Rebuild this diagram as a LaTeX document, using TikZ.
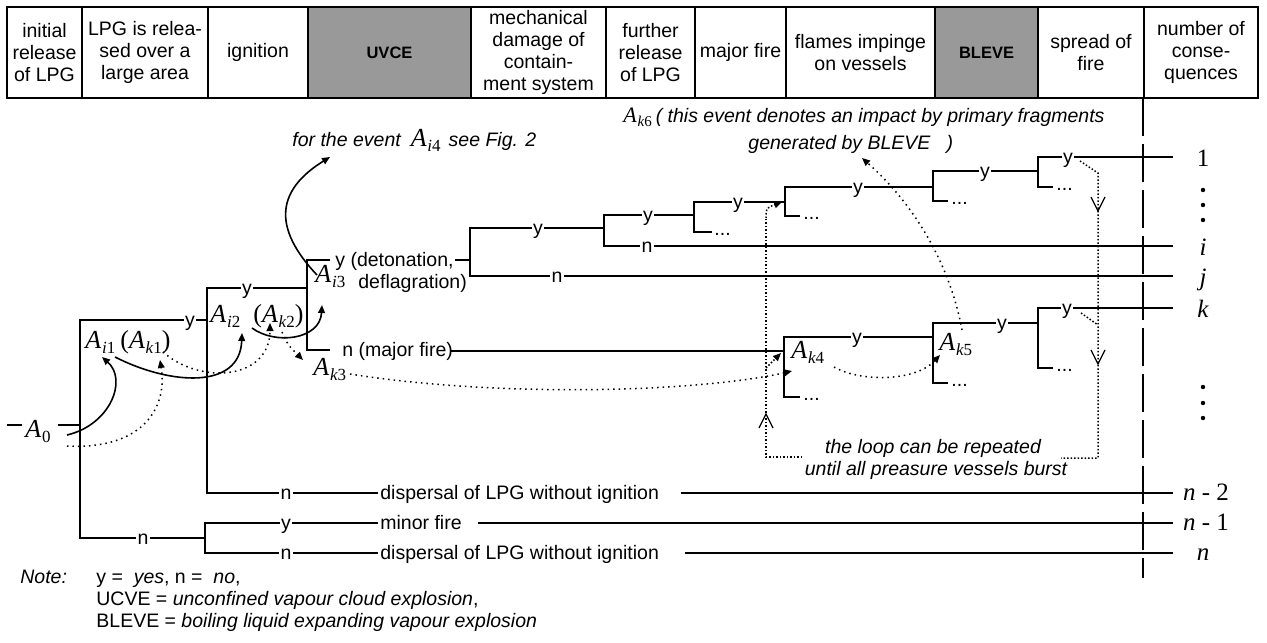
\documentclass[tikz,border=0pt]{standalone}
\usepackage{fontspec}
\setmainfont{Liberation Sans}
\newfontfamily\tms{Liberation Serif}
\usetikzlibrary{arrows.meta, positioning}

% sucesos A con subindices
\newcommand{\suc}[2]{{\tms\fontsize{13}{13}\selectfont\itshape A\kern0.4pt\raisebox{-2.8pt}{\fontsize{8.5}{8.5}\selectfont #1\upshape #2}}}
\newcommand{\sucp}[2]{{\tms\fontsize{13}{13}\selectfont(}\suc{#1}{#2}{\tms\fontsize{13}{13}\selectfont)}}
\newcommand{\sucs}[2]{{\tms\fontsize{11}{11}\selectfont\itshape A\kern0.4pt\raisebox{-2.4pt}{\fontsize{7.5}{7.5}\selectfont #1\upshape #2}}}

\begin{document}
\begin{tikzpicture}[x=0.5pt, y=-0.5pt,
  rama/.style={line width=1pt},
  marco/.style={line width=0.6pt},
  sombra/.style={fill=black!40},
  cab/.style={align=center, inner sep=0pt, font=\fontsize{9.75}{11}\selectfont},
  cabneg/.style={inner sep=0pt, font=\fontsize{8.25}{10}\selectfont\bfseries},
  lbl/.style={fill=white, inner sep=0.8pt, anchor=mid, yshift=-0.5pt, font=\fontsize{9.75}{11}\selectfont},
  txt/.style={inner sep=0pt, anchor=base west, font=\fontsize{9.75}{11}\selectfont},
  cursiva/.style={txt, font=\fontsize{9.75}{11}\selectfont\itshape},
  fila/.style={inner sep=0pt, anchor=base, font=\tms\fontsize{12.5}{12.5}\selectfont},
  suceso/.style={inner sep=0pt, anchor=base west},
  flecha/.style={line width=0.8pt, -{Triangle[length=4pt, width=3.4pt]}},
  punteada/.style={line width=0.75pt, dotted, -{Triangle[length=4pt, width=3.4pt]}},
  lazo/.style={line width=0.75pt, densely dotted},
  punta/.style={line width=0.6pt}]
\useasboundingbox (0,0) rectangle (1267,642);

% cabecera
\fill[sombra] (308,7) rectangle (471,98);
\fill[sombra] (935,7) rectangle (1038,98);
\draw[marco] (7,7) rectangle (1258,98);
\draw[marco] (82,7) -- (82,98);
\draw[marco] (208,7) -- (208,98);
\draw[marco] (308,7) -- (308,98);
\draw[marco] (471,7) -- (471,98);
\draw[marco] (606,7) -- (606,98);
\draw[marco] (695,7) -- (695,98);
\draw[marco] (786,7) -- (786,98);
\draw[marco] (935,7) -- (935,98);
\draw[marco] (1038,7) -- (1038,98);
\draw[marco] (1144,7) -- (1144,98);
\node[cab] (c1) at (44.5,52.5) {initial\\release\\of LPG};
\node[cab] (c2) at (145,52.5) {LPG is relea-\\sed over a\\large area};
\node[cab] (c3) at (258,52.5) {ignition};
\node[cabneg] (c4) at (389.5,52.5) {UVCE};
\node[cab] (c5) at (538.5,52.5) {mechanical\\damage of\\contain-\\ment system};
\node[cab] (c6) at (650.5,52.5) {further\\release\\of LPG};
\node[cab] (c7) at (740.5,52.5) {major fire};
\node[cab] (c8) at (860.5,52.5) {flames impinge\\on vessels};
\node[cabneg] (c9) at (986.5,52.5) {BLEVE};
\node[cab] (c10) at (1091,52.5) {spread of\\fire};
\node[cab] (c11) at (1201,52.5) {number of\\conse-\\quences};

% suceso inicial
\node[suceso] (A0) at (25,437) {\suc{}{0}};
\draw[rama] (7,425) -- (22,425);
\draw[rama] (58,425) -- (80,425);

% ramas hasta la ignicion
\draw[rama] (207,320) -- (80,320) -- (80,538) -- (205,538);
\node[lbl] (y1) at (190,320) {y};
\node[lbl] (n1) at (143,538) {n};
\draw[rama] (307,288) -- (207,288) -- (207,493) -- (378,493);
\node[lbl] (y2) at (247,288) {y};
\node[lbl] (n2) at (286,493) {n};
\node[txt] (disp1) at (380,499) {dispersal of LPG without ignition};
\draw[rama] (681,493) -- (1173,493);
\draw[rama] (378,523) -- (205,523) -- (205,553) -- (378,553);
\node[lbl] (y3) at (286,523) {y};
\node[lbl] (n3) at (286,553) {n};
\node[txt] (minor) at (380,529) {minor fire};
\draw[rama] (478,523) -- (1173,523);
\node[txt] (disp2) at (380,559) {dispersal of LPG without ignition};
\draw[rama] (685,553) -- (1173,553);

% UVCE o incendio
\draw[rama] (330,260) -- (307,260) -- (307,350) -- (330,350);
\node[txt] (det) at (335,266) {y (detonation,};
\node[txt] (defl) at (358,288) {deflagration)};
\node[txt] (mfire) at (342,356) {n (major fire)};
\draw[rama] (455,260) -- (470,260);
\draw[rama] (450,351) -- (784,351);

% cascada superior
\draw[rama] (604,228) -- (470,228) -- (470,276) -- (1173,276);
\node[lbl] (ya) at (538,228) {y};
\node[lbl] (na) at (557,276) {n};
\draw[rama] (694,215) -- (604,215) -- (604,246) -- (1173,246);
\node[lbl] (yb) at (648,215) {y};
\node[lbl] (nb) at (647,246) {n};
\draw[rama] (785,202) -- (694,202) -- (694,232) -- (712,232);
\node[lbl] (yc) at (738,202) {y};
\node[txt] (dc) at (714,235) {...};
\draw[rama] (933,187) -- (785,187) -- (785,216) -- (800,216);
\node[lbl] (yd) at (858,187) {y};
\node[txt] (dd) at (803,219) {...};
\draw[rama] (1038,171) -- (933,171) -- (933,201) -- (948,201);
\node[lbl] (ye) at (985,171) {y};
\node[txt] (de) at (951,204) {...};
\draw[rama] (1173,157) -- (1038,157) -- (1038,187) -- (1053,187);
\node[lbl] (yf) at (1068,157) {y};
\node[txt] (df) at (1056,190) {...};

% cascada inferior (major fire)
\draw[rama] (933,337) -- (784,337) -- (784,397) -- (800,397);
\node[lbl] (yk4) at (857,337) {y};
\node[txt] (dk4) at (803,400) {...};
\draw[rama] (1038,323) -- (933,323) -- (933,383) -- (948,383);
\node[lbl] (yk5) at (1002,323) {y};
\node[txt] (dk5) at (951,386) {...};
\draw[rama] (1173,308) -- (1038,308) -- (1038,368) -- (1053,368);
\node[lbl] (yg) at (1067,308) {y};
\node[txt] (dg) at (1056,371) {...};

% numero de consecuencias
\draw[marco, dash pattern=on 19pt off 4pt] (1143,98) -- (1143,578);
\node[fila] (r1) at (1203,166) {1};
\node[fila] (ri) at (1203,255) {\itshape i};
\node[fila] (rj) at (1203,285) {\itshape j};
\node[fila] (rk) at (1203,317) {\itshape k};
\node[fila] (rn2) at (1206,500) {\textit{n} - 2};
\node[fila] (rn1) at (1206,530) {\textit{n} - 1};
\node[fila] (rn) at (1203,560) {\itshape n};
\fill (1203,190) circle (1.1pt);
\fill (1203,205) circle (1.1pt);
\fill (1203,220) circle (1.1pt);
\fill (1203,387) circle (1.1pt);
\fill (1203,403) circle (1.1pt);
\fill (1203,418) circle (1.1pt);

% sucesos
\node[suceso] (Ai1) at (85,348) {\suc{i}{1}};
\node[suceso] (Ak1) at (120,348) {\sucp{k}{1}};
\node[suceso] (Ai2) at (210,322) {\suc{i}{2}};
\node[suceso] (Ak2) at (253,322) {\sucp{k}{2}};
\node[suceso] (Ai3) at (315,282) {\suc{i}{3}};
\node[suceso] (Ak3) at (313,375) {\suc{k}{3}};
\node[suceso] (Ak4) at (791,358) {\suc{k}{4}};
\node[suceso] (Ak5) at (939,350) {\suc{k}{5}};

% flechas entre sucesos
\draw[flecha] (67,435) .. controls (110,425) and (128,380) .. (102,357);
\draw[flecha] (115,357) .. controls (170,385) and (240,390) .. (242,333);
\draw[flecha] (252,328) .. controls (275,345) and (320,340) .. (322,305);
\draw[flecha] (317,275) .. controls (265,220) and (285,185) .. (330,157);
\draw[punteada] (67,446) .. controls (140,450) and (168,410) .. (160,360);
\draw[punteada] (163,352) .. controls (200,385) and (270,380) .. (270,323);
\draw[punteada] (282,332) .. controls (288,345) .. (303,360);
\draw[punteada] (350,374) .. controls (500,398) and (700,392) .. (792,371);
\draw[punteada] (834,367) .. controls (860,382) and (915,382) .. (940,355);
\draw[punteada] (962,330) .. controls (950,265) and (915,205) .. (862,158);

% lazo de BLEVE
\draw[lazo] (1080,161) -- (1098,173) -- (1098,458) -- (1061,458);
\draw[lazo] (1081,313) -- (1098,325);
\draw[lazo] (802,457) -- (766,457) -- (766,218);
\draw[punteada, densely dotted] (766,218) .. controls (766,208) .. (782,202);
\draw[punteada, densely dotted] (766,368) -- (781,353);
\draw[punta] (1091,197) -- (1098,211) -- (1105,197);
\draw[punta] (1091,350) -- (1098,364) -- (1105,350);
\draw[punta] (759,428) -- (766,414) -- (773,428);

% textos
\node[cursiva] (fig2) at (292,146) {for the event\hspace{5pt}\suc{i}{4}\hspace{4pt}see Fig. 2};
\node[cursiva] (k6) at (623,122) {\sucs{k}{6}\hspace{2pt}( this event denotes an impact by primary fragments};
\node[cursiva] (k6b) at (748,149) {generated by BLEVE\hspace{8pt})};
\node[cursiva, anchor=base] (lz1) at (933,453) {the loop can be repeated};
\node[cursiva, anchor=base] (lz2) at (936,475) {until all preasure vessels burst};
\node[cursiva] (nt) at (20,583) {Note:};
\node[txt] (nt1) at (96,583) {y =\ \ \textit{yes}, n =\ \ \textit{no},};
\node[txt] (nt2) at (96,605) {UCVE = \textit{unconfined vapour cloud explosion},};
\node[txt] (nt3) at (96,627) {BLEVE = \textit{boiling liquid expanding vapour explosion}};
\end{tikzpicture}
\end{document}
